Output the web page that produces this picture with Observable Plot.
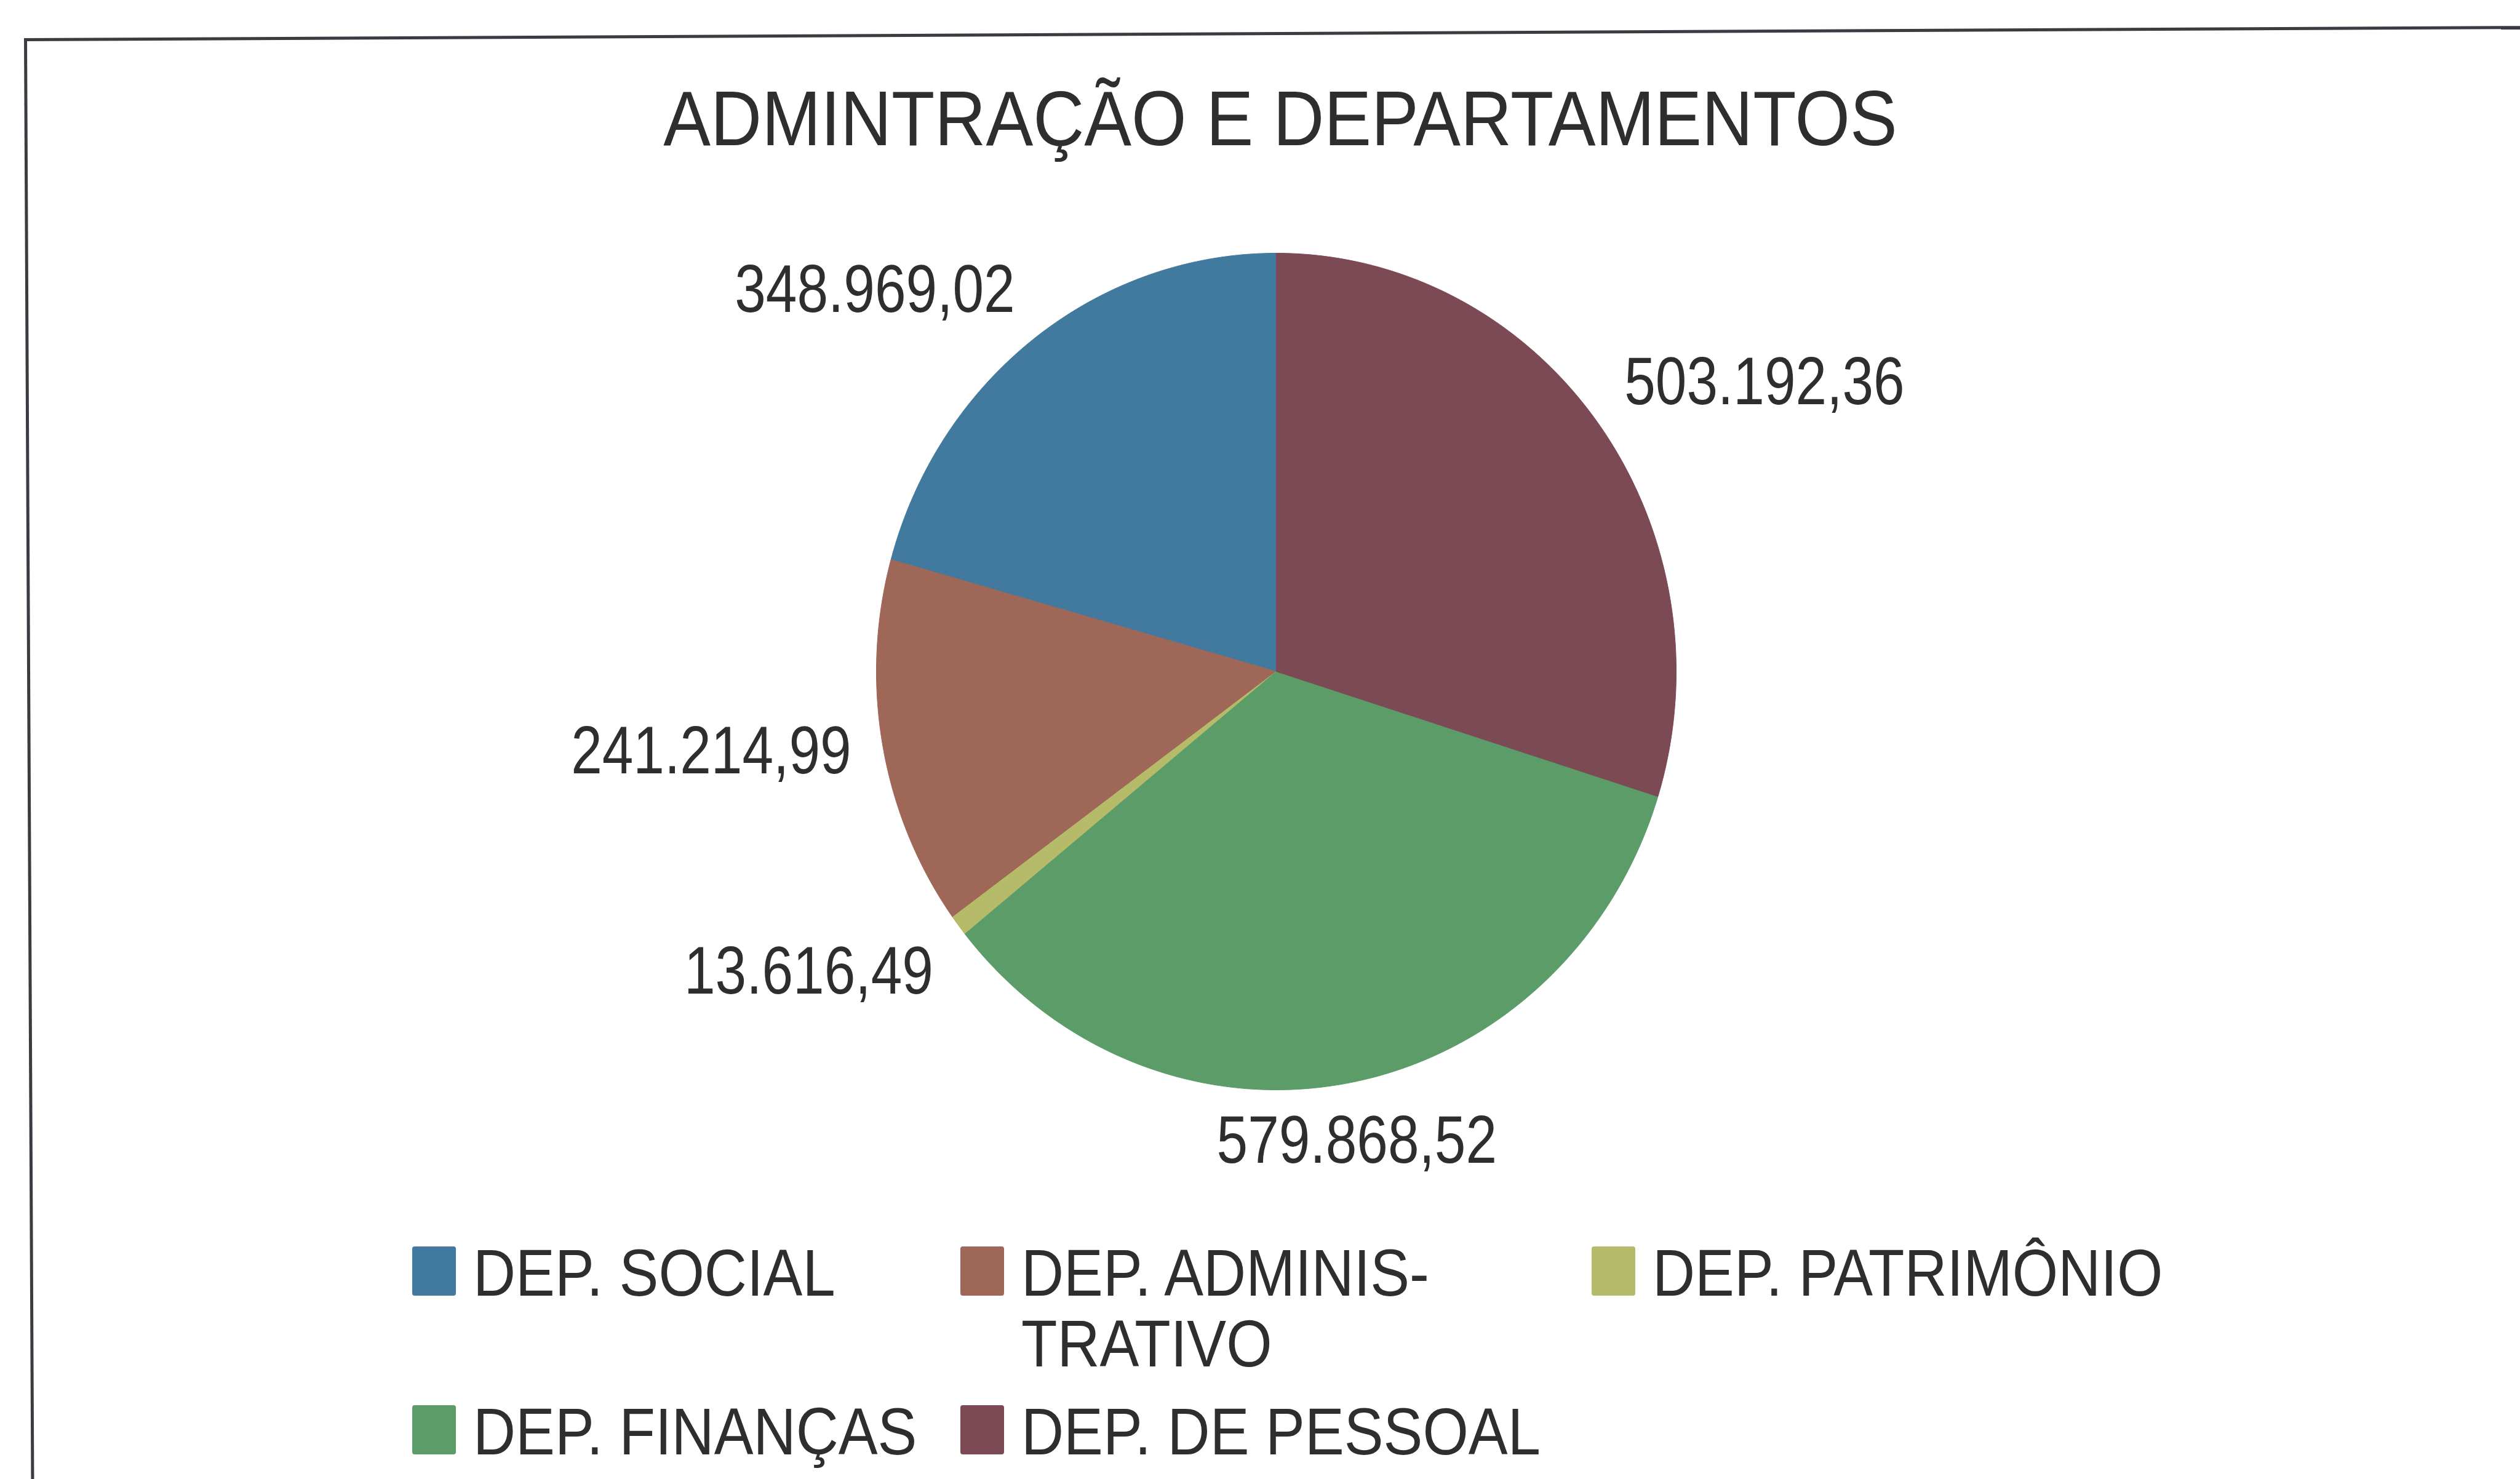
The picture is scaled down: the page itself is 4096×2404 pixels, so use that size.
<!DOCTYPE html>
<html><head><meta charset="utf-8">
<script src="https://cdn.jsdelivr.net/npm/d3@7"></script>
<script src="https://cdn.jsdelivr.net/npm/@observablehq/plot@0.6"></script>
<style>
html,body{margin:0;padding:0;background:#fff;}
#root{position:relative;width:4096px;height:2404px;overflow:hidden;background:#fff;}
#frame{position:absolute;left:39px;top:62px;width:4300px;height:2600px;border-top:5px solid #3b3b42;border-left:5px solid #3b3b42;transform-origin:0 0;transform:rotate(-0.28deg);box-sizing:border-box;}
#root svg{position:absolute;left:0;top:0;}
</style></head>
<body><div id="root"><div id="frame"></div></div>
<script>
// ---- data ----
const title = "ADMINTRAÇÃO E DEPARTAMENTOS";
const categories = ["DEP. SOCIAL", "DEP. ADMINISTRATIVO", "DEP. PATRIMÔNIO", "DEP. FINANÇAS", "DEP. DE PESSOAL"];
const values = [348969.02, 241214.99, 13616.49, 579868.52, 503192.36];
const colors = ["#41799f", "#9e6757", "#b5bb68", "#5b9c69", "#7b4a55"];
const legendLabels = [["DEP. SOCIAL"], ["DEP. ADMINIS-", "TRATIVO"], ["DEP. PATRIMÔNIO"], ["DEP. FINANÇAS"], ["DEP. DE PESSOAL"]];

// ---- layout ----
const W = 4096, H = 2404;
const FONT = "'Liberation Sans', Arial, sans-serif";
const TEXT = "#2e2e2e";
const pie = {cx: 2074, cy: 1091, rx: 650, ry: 680};
const labelRadius = 1.08;

const fmt = d3.formatLocale({decimal: ",", thousands: ".", grouping: [3], currency: ["R$", ""]}).format(",.2f");

// slices, counter-clockwise from 12 o'clock
const total = d3.sum(values);
const rows = [];
const labels = [];
let cum = 0;
categories.forEach((cat, i) => {
  const a0 = cum / total * 2 * Math.PI;
  cum += values[i];
  const a1 = cum / total * 2 * Math.PI;
  const n = Math.max(2, Math.ceil((a1 - a0) / (Math.PI / 360)));
  rows.push({cat, x: 0, y: 0});
  for (let k = 0; k <= n; ++k) {
    const t = a0 + (a1 - a0) * k / n;
    rows.push({cat, x: -Math.sin(t), y: Math.cos(t)});
  }
  rows.push({cat, x: 0, y: 0});
  const m = (a0 + a1) / 2;
  const sx = -Math.sin(m), sy = Math.cos(m);
  labels.push({
    cat, text: fmt(values[i]),
    x: labelRadius * sx, y: labelRadius * sy,
    h: sx < -0.3 ? "end" : sx > 0.3 ? "start" : "middle",
    v: sy > 0.3 ? "bottom" : sy < -0.3 ? "top" : "middle"
  });
});

const labelMarks = d3.groups(labels, d => d.h + "|" + d.v).map(([key, data]) => {
  const [h, v] = key.split("|");
  return Plot.text(data, {x: "x", y: "y", text: "text", textAnchor: h, lineAnchor: v,
    fontSize: 109, fontFamily: FONT, fill: TEXT});
});

const chart = Plot.plot({
  width: W, height: H, margin: 0,
  x: {domain: [-1, 1], range: [pie.cx - pie.rx, pie.cx + pie.rx], axis: null},
  y: {domain: [-1, 1], range: [pie.cy + pie.ry, pie.cy - pie.ry], axis: null},
  color: {domain: categories, range: colors},
  style: {background: "transparent", overflow: "visible"},
  marks: [
    Plot.line(rows, {x: "x", y: "y", z: "cat", fill: "cat", stroke: "cat", strokeWidth: 1, curve: "linear"}),
    ...labelMarks
  ]
});
document.getElementById("root").appendChild(chart);

// condensed look: squeeze glyphs horizontally
function squeeze(sel, k) {
  sel.each(function () {
    const len = this.getComputedTextLength();
    if (len > 0) {
      this.setAttribute("textLength", (len * k).toFixed(1));
      this.setAttribute("lengthAdjust", "spacingAndGlyphs");
    }
  });
}
squeeze(d3.select(chart).selectAll("text"), 0.835);

// ---- title and legend overlay ----
const svg = d3.select("#root").append("svg").attr("width", W).attr("height", H)
  .style("font-family", FONT);
const t = svg.append("text").attr("x", 2081).attr("y", 236).attr("text-anchor", "middle")
  .attr("font-size", 127).attr("fill", TEXT).text(title);
squeeze(t, 0.906);

const colX = [670, 1561, 2587];
const rowBase = [2106, 2364];
const lineStep = 115;
const place = [[0, 0], [1, 0], [2, 0], [0, 1], [1, 1]];
categories.forEach((cat, i) => {
  const [c, r] = place[i];
  const g = svg.append("g");
  g.append("rect").attr("x", colX[c]).attr("y", rowBase[r] - 80).attr("width", 71).attr("height", 80)
    .attr("rx", 4).attr("fill", colors[i]);
  legendLabels[i].forEach((line, j) => {
    const tx = g.append("text").attr("x", colX[c] + 99).attr("y", rowBase[r] + j * lineStep)
      .attr("font-size", 108).attr("fill", TEXT).text(line);
    squeeze(tx, 0.886);
  });
});
</script>
</body></html>
